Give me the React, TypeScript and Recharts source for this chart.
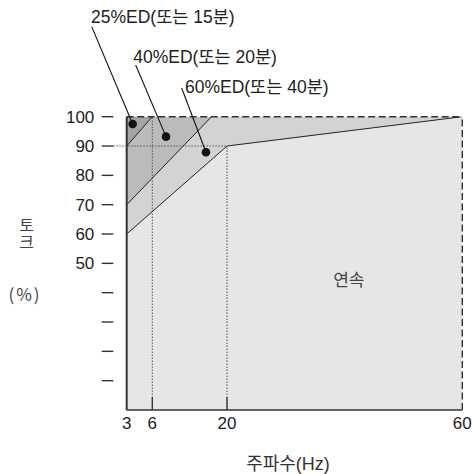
import React from 'react';
import {
	ComposedChart,
	Area,
	Line,
	XAxis,
	YAxis,
	ReferenceLine,
	ReferenceDot,
} from 'recharts';

type Pt = { hz: number; torque: number };

// frequency ticks, the drawing is not to scale so every stop has its own spacing (% of axis)
const FREQ_TICKS = [3, 6, 20, 60];
const FREQ_SPACING = [0, 7.63, 29.89, 100];

const TORQUE_TICKS = [10, 20, 30, 40, 50, 60, 70, 80, 90, 100];
const TORQUE_LABELED = [50, 60, 70, 80, 90, 100];
const FULL_TORQUE = 100;

// upper edge of each duty region
const EDGE_25: Pt[] = [
	{ hz: 3, torque: 90 },
	{ hz: 6, torque: 100 },
];
const EDGE_40: Pt[] = [
	{ hz: 3, torque: 70 },
	{ hz: 17.1, torque: 100 },
];
const EDGE_CONT: Pt[] = [
	{ hz: 3, torque: 60 },
	{ hz: 20, torque: 90 },
	{ hz: 60, torque: 100 },
];

const ED_LABELS = ['25%ED(또는 15분)', '40%ED(또는 20분)', '60%ED(또는 40분)'];
const ED_MARKERS: Pt[] = [
	{ hz: 3.7, torque: 97.5 },
	{ hz: 8.57, torque: 93.2 },
	{ hz: 16.06, torque: 87.9 },
];
const ED_LEADER_TOPS: Pt[] = [
	{ hz: -1.1, torque: 130.7 },
	{ hz: 4.05, torque: 117.6 },
	{ hz: 11.5, torque: 109.8 },
];
const CONT_LABEL = '연속';
const CONT_LABEL_AT: Pt = { hz: 40.7, torque: 44.2 };

const GUIDE_90: Pt[] = [
	{ hz: 1.43, torque: 90 },
	{ hz: 20, torque: 90 },
];

// piecewise position along the x axis
const toPos = (hz: number) => {
	let i = 0;
	while (i < FREQ_TICKS.length - 2 && hz > FREQ_TICKS[i + 1]) i++;
	const h0 = FREQ_TICKS[i];
	const h1 = FREQ_TICKS[i + 1];
	const p0 = FREQ_SPACING[i];
	const p1 = FREQ_SPACING[i + 1];
	return p0 + ((hz - h0) / (h1 - h0)) * (p1 - p0);
};

const FILLS = [
	{
		key: 'f25',
		color: '#a4a4a4',
		pts: [
			{ hz: 3, torque: FULL_TORQUE },
			{ hz: EDGE_25[EDGE_25.length - 1].hz, torque: FULL_TORQUE },
		],
	},
	{
		key: 'f40',
		color: '#bbbbbb',
		pts: [...EDGE_25, { hz: EDGE_40[EDGE_40.length - 1].hz, torque: FULL_TORQUE }],
	},
	{
		key: 'f60',
		color: '#d3d3d3',
		pts: [...EDGE_40, { hz: 60, torque: FULL_TORQUE }],
	},
	{ key: 'fc', color: '#e6e6e6', pts: EDGE_CONT },
];

const EDGES = [
	{ key: 'e25', pts: EDGE_25 },
	{ key: 'e40', pts: EDGE_40 },
	{ key: 'ec', pts: EDGE_CONT },
];

const buildTable = () => {
	const rows = new Map<number, any>();
	[...FILLS, ...EDGES].forEach((s) => {
		s.pts.forEach((p) => {
			if (!rows.has(p.hz)) rows.set(p.hz, { x: toPos(p.hz) });
			rows.get(p.hz)[s.key] = p.torque;
		});
	});
	return Array.from(rows.values()).sort((a, b) => a.x - b.x);
};

const chartData = buildTable();

const LATIN = "'Liberation Sans', 'Noto Sans CJK KR', sans-serif";
const KOREAN = "'Noto Sans CJK KR', sans-serif";
const Y_AXIS_W = 126.7;
const PLOT_BOTTOM = 410;

const YTick = (props: any) => {
	const { y, payload } = props;
	const v = payload.value;
	return (
		<g>
			<line
				x1={Y_AXIS_W - 25}
				x2={Y_AXIS_W - 13.4}
				y1={y}
				y2={y}
				stroke='#333'
				strokeWidth={1.4}
			/>
			{TORQUE_LABELED.includes(v) && (
				<text
					x={Y_AXIS_W - 32.4}
					y={y}
					dy='0.36em'
					textAnchor='end'
					fontSize={17}
					fontFamily={LATIN}
					fill='#222'
				>
					{v}
				</text>
			)}
		</g>
	);
};

const XTick = (props: any) => {
	const { x, payload } = props;
	const i = FREQ_SPACING.findIndex((p) => Math.abs(p - payload.value) < 0.01);
	return (
		<text
			x={x}
			y={PLOT_BOTTOM + 19}
			textAnchor='middle'
			fontSize={17}
			fontFamily={LATIN}
			fill='#222'
		>
			{FREQ_TICKS[i]}
		</text>
	);
};

const seg = (a: Pt, b: Pt) => [
	{ x: toPos(a.hz), y: a.torque },
	{ x: toPos(b.hz), y: b.torque },
];

const dotted = { stroke: '#555', strokeWidth: 1, strokeDasharray: '1.5 1.5' };
const dashed = { stroke: '#333', strokeWidth: 1.4, strokeDasharray: '7 3.5' };
const LABEL_OFFSETS = [
	[-0.7, -3.4],
	[-2.4, -1.7],
	[3.3, 5.3],
];

export default function App() {
	return (
		<div
			style={{
				position: 'fixed',
				left: 0,
				top: 0,
				width: 473,
				height: 474,
				overflow: 'hidden',
				background: '#fff',
			}}
		>
			<ComposedChart
				width={473}
				height={474}
				data={chartData}
				margin={{ top: 116.7, right: 10.7, bottom: 34, left: 0 }}
			>
				<XAxis
					dataKey='x'
					type='number'
					domain={[0, 100]}
					ticks={FREQ_TICKS.map(toPos)}
					interval={0}
					allowDataOverflow
					height={30}
					axisLine={{ stroke: '#333', strokeWidth: 1.5 }}
					tickLine={false}
					tick={<XTick />}
					label={{
						content: () => (
							<text
								x={288}
								y={470}
								textAnchor='middle'
								fontSize={18}
								fontFamily={LATIN}
								fill='#333'
							>
								주파수(Hz)
							</text>
						),
					}}
				/>
				<YAxis
					type='number'
					domain={[0, 100]}
					ticks={TORQUE_TICKS}
					interval={0}
					allowDataOverflow
					width={Y_AXIS_W}
					axisLine={{ stroke: '#333', strokeWidth: 2 }}
					tickLine={false}
					tick={<YTick />}
					label={{
						content: () => (
							<g fontFamily={KOREAN} fill='#444' textAnchor='middle'>
								<text
									x={26.5}
									y={234}
									fontSize={16}
									letterSpacing={1}
									style={{ writingMode: 'vertical-rl' }}
								>
									토크
								</text>
								<text x={25} y={294.5} dy='0.36em' fontSize={17} letterSpacing={2}>
									(%)
								</text>
							</g>
						),
					}}
				/>
				{FILLS.map((f) => (
					<Area
						key={f.key}
						type='linear'
						dataKey={f.key}
						stroke='none'
						fill={f.color}
						fillOpacity={1}
						connectNulls
						dot={false}
						activeDot={false}
						isAnimationActive={false}
					/>
				))}
				<ReferenceLine segment={seg({ hz: 6, torque: 0 }, { hz: 6, torque: FULL_TORQUE })} {...dotted} ifOverflow='visible' />
				<ReferenceLine segment={seg({ hz: 20, torque: 0 }, { hz: 20, torque: 90 })} {...dotted} ifOverflow='visible' />
				<ReferenceLine segment={seg(GUIDE_90[0], GUIDE_90[1])} {...dotted} ifOverflow='visible' />
				<ReferenceLine segment={seg({ hz: 6, torque: 0 }, { hz: 6, torque: 4.4 })} stroke='#333' strokeWidth={1.3} ifOverflow='visible' />
				<ReferenceLine segment={seg({ hz: 20, torque: 0 }, { hz: 20, torque: 4.4 })} stroke='#333' strokeWidth={1.3} ifOverflow='visible' />
				<ReferenceLine segment={seg({ hz: 3, torque: FULL_TORQUE }, { hz: 60, torque: FULL_TORQUE })} {...dashed} ifOverflow='visible' />
				<ReferenceLine segment={seg({ hz: 60, torque: 0 }, { hz: 60, torque: FULL_TORQUE })} {...dashed} ifOverflow='visible' />
				{EDGES.map((e) => (
					<Line
						key={e.key}
						type='linear'
						dataKey={e.key}
						stroke='#222'
						strokeWidth={1}
						connectNulls
						dot={false}
						activeDot={false}
						isAnimationActive={false}
					/>
				))}
				{ED_MARKERS.map((m, i) => (
					<ReferenceLine
						key={'leader' + i}
						segment={seg(ED_LEADER_TOPS[i], m)}
						stroke='#111'
						strokeWidth={1.1}
						ifOverflow='visible'
					/>
				))}
				{ED_MARKERS.map((m, i) => (
					<ReferenceDot
						key={'dot' + i}
						x={toPos(m.hz)}
						y={m.torque}
						r={4.3}
						fill='#111'
						stroke='none'
						ifOverflow='visible'
					/>
				))}
				{ED_LEADER_TOPS.map((t, i) => (
					<ReferenceDot
						key={'label' + i}
						x={toPos(t.hz)}
						y={t.torque}
						ifOverflow='visible'
						shape={(p: any) => (
							<text
								x={p.cx + LABEL_OFFSETS[i][0]}
								y={p.cy + LABEL_OFFSETS[i][1]}
								fontSize={17.5}
								fontFamily={LATIN}
								fill='#222'
							>
								{ED_LABELS[i]}
							</text>
						)}
					/>
				))}
				<ReferenceDot
					x={toPos(CONT_LABEL_AT.hz)}
					y={CONT_LABEL_AT.torque}
					ifOverflow='visible'
					shape={(p: any) => (
						<text
							x={p.cx}
							y={p.cy}
							dy='0.36em'
							textAnchor='middle'
							fontSize={17}
							fontFamily={KOREAN}
							fill='#444'
						>
							{CONT_LABEL}
						</text>
					)}
				/>
			</ComposedChart>
		</div>
	);
}
